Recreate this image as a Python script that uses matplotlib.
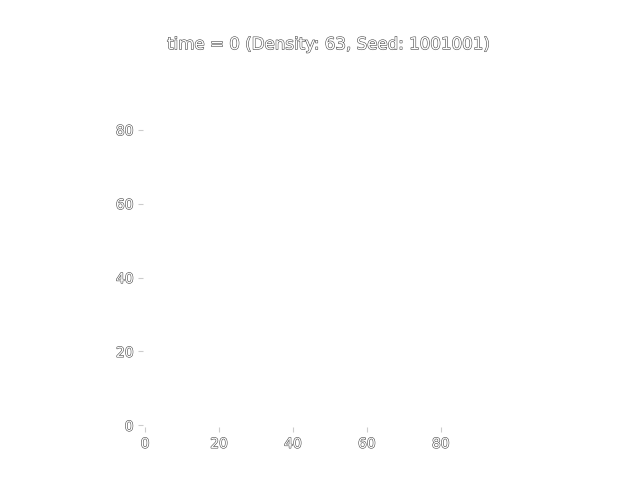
import matplotlib
matplotlib.use("Agg")
import matplotlib.pyplot as plt
import matplotlib.patheffects as pe
import numpy as np
from matplotlib.colors import ListedColormap

# grid state at time 0 (reads as blank / white in the frame)
grid_size = 100
density = 63
seed = 1001001
time_step = 0
grid = np.zeros((grid_size, grid_size))

x_ticks = [0, 20, 40, 60, 80]
y_ticks = [0, 20, 40, 60, 80]

outline = [pe.withStroke(linewidth=0.8, foreground="#4a4a4a")]

fig, ax = plt.subplots(figsize=(6.4, 4.8), dpi=100)
cmap = ListedColormap(["#ffffff", "#fbfbfb"])
ax.imshow(grid, origin="lower", cmap=cmap, vmin=0, vmax=1, interpolation="nearest")

ax.set_xticks(x_ticks)
ax.set_yticks(y_ticks)
for sp in ax.spines.values():
    sp.set_visible(False)
ax.tick_params(colors="#cccccc", labelcolor="white")
for lbl in ax.get_xticklabels() + ax.get_yticklabels():
    lbl.set_path_effects(outline)

t = ax.set_title(f"time = {time_step} (Density: {density}, Seed: {seed})", color="white")
t.set_path_effects(outline)

fig.savefig("out.png", dpi=100)
